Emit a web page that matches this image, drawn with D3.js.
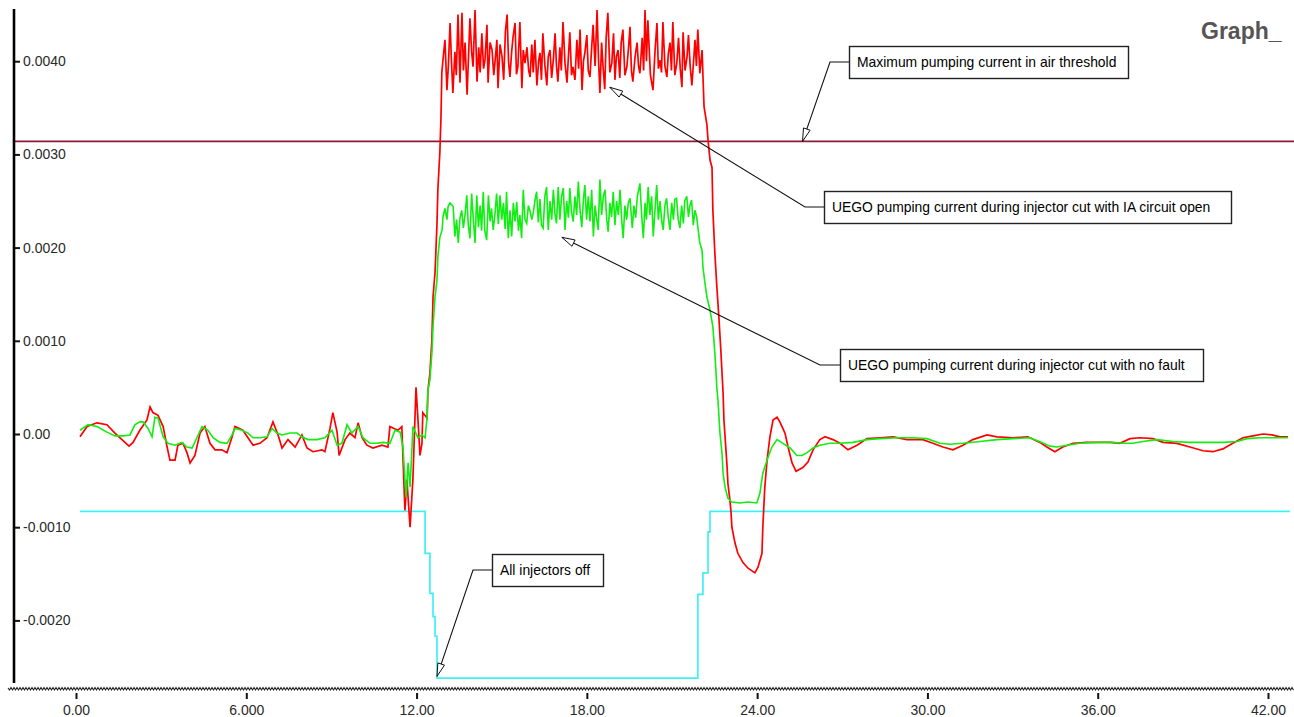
<!DOCTYPE html>
<html lang="en">
<head>
<meta charset="UTF-8">
<script src="https://d3js.org/d3.v7.min.js"></script>
<style>
  body { margin: 0; background: #fff; }
  svg { display: block; }
  .axis text { font-family: "Liberation Sans", Arial, sans-serif; font-size: 14px; fill: #2a2a2a; }
  .axis line { stroke: #111; stroke-width: 2; }
  .note text { font-family: "Liberation Sans", Arial, sans-serif; font-size: 13.9px; fill: #000; }
  .title { font-family: "Liberation Sans", Arial, sans-serif; font-size: 23px; font-weight: bold; fill: #555; }
</style>
</head>
<body>
<svg id="chart" width="1294" height="717"></svg>
<script>
// time in seconds, pumping current in mA (axis labels are in A)
var redData = [
  [0.14,-0.03],[0.39,0.08],[0.74,0.12],[1.09,0.10],[1.37,0.01],[1.62,-0.06],[1.87,-0.13],[2.01,-0.09],
  [2.25,0.04],[2.50,0.15],[2.61,0.29],[2.71,0.23],[2.89,0.20],[3.07,0.08],[3.21,-0.14],[3.31,-0.28],
  [3.49,-0.28],[3.59,-0.12],[3.77,-0.10],[3.91,-0.20],[4.02,-0.31],[4.19,-0.23],[4.37,0.01],[4.54,0.08],
  [4.72,-0.10],[4.90,-0.17],[5.14,-0.17],[5.32,-0.20],[5.50,-0.03],[5.60,0.08],[5.88,0.04],[6.06,-0.04],
  [6.24,-0.12],[6.48,-0.10],[6.73,-0.04],[6.94,0.13],[7.12,-0.01],[7.26,-0.15],[7.47,-0.06],[7.72,-0.14],
  [7.96,-0.01],[8.14,-0.15],[8.35,-0.19],[8.67,-0.17],[8.77,-0.19],[8.95,0.06],[9.05,0.23],[9.20,0.02],
  [9.27,-0.23],[9.48,-0.06],[9.65,0.01],[9.83,-0.04],[9.94,0.12],[10.08,-0.04],[10.25,-0.12],[10.46,-0.15],
  [10.78,-0.12],[10.99,-0.14],[11.06,0.08],[11.34,0.04],[11.48,0.08],[11.59,-0.82],[11.66,-0.49],[11.77,-1.00],
  [11.87,-0.49],[11.98,0.50],[12.05,0.15],[12.12,-0.23],[12.19,-0.10],[12.22,0.23],[12.37,0.17],[12.40,0.47],
  [12.47,0.65],[12.54,1.01],[12.58,1.47],[12.65,1.73],[12.72,2.26],[12.75,2.62],[12.82,3.02],[12.86,3.40],
  [12.89,3.88],[12.93,4.01],[13.00,4.23],[13.07,3.69],[13.12,3.95],[13.18,4.41],[13.23,4.00],[13.28,3.66],
  [13.35,4.10],[13.40,3.85],[13.46,4.50],[13.53,3.77],[13.60,4.52],[13.65,3.90],[13.71,4.20],[13.78,3.64],
  [13.83,4.05],[13.88,4.46],[13.94,4.10],[13.99,3.94],[14.06,4.55],[14.13,3.78],[14.19,4.15],[14.24,3.88],
  [14.30,4.30],[14.36,3.92],[14.41,4.01],[14.48,4.39],[14.52,3.77],[14.59,4.20],[14.66,4.12],[14.72,3.85],
  [14.78,4.05],[14.83,4.23],[14.87,3.71],[14.94,4.18],[15.01,4.05],[15.07,3.80],[15.13,4.32],[15.19,4.50],
  [15.24,4.00],[15.29,3.83],[15.35,4.10],[15.40,4.26],[15.47,4.41],[15.52,3.86],[15.57,3.94],[15.64,4.42],
  [15.71,3.71],[15.76,4.12],[15.82,3.98],[15.89,4.15],[15.95,3.90],[16.00,3.83],[16.06,4.18],[16.11,3.88],
  [16.17,4.23],[16.24,3.74],[16.30,4.00],[16.35,4.09],[16.40,3.80],[16.45,4.30],[16.52,3.96],[16.59,3.74],
  [16.64,4.05],[16.70,4.12],[16.76,3.82],[16.82,4.02],[16.88,4.30],[16.93,3.95],[16.98,3.78],[17.05,4.15],
  [17.10,3.90],[17.16,4.42],[17.23,3.98],[17.30,3.77],[17.35,4.05],[17.40,4.31],[17.46,3.85],[17.51,3.94],
  [17.58,3.80],[17.65,4.23],[17.71,3.92],[17.76,4.34],[17.83,3.69],[17.88,4.00],[17.93,4.09],[18.00,4.28],
  [18.05,3.90],[18.11,3.83],[18.16,4.10],[18.22,4.39],[18.29,3.95],[18.36,4.55],[18.41,4.02],[18.46,3.66],
  [18.52,4.20],[18.57,3.94],[18.63,3.70],[18.68,4.25],[18.74,4.52],[18.81,3.88],[18.88,3.98],[18.94,4.30],
  [18.99,3.80],[19.04,4.05],[19.10,4.12],[19.16,3.82],[19.21,4.20],[19.27,4.34],[19.34,3.85],[19.41,3.94],
  [19.47,4.15],[19.52,4.37],[19.57,3.90],[19.62,3.78],[19.70,4.05],[19.77,4.20],[19.82,3.95],[19.87,3.87],
  [19.95,4.25],[20.00,3.90],[20.05,4.55],[20.10,4.00],[20.15,4.44],[20.24,3.85],[20.33,3.69],[20.40,4.10],
  [20.47,4.41],[20.52,3.92],[20.58,4.01],[20.63,3.88],[20.68,4.42],[20.75,3.95],[20.82,3.83],[20.87,4.08],
  [20.93,4.20],[20.98,3.90],[21.03,4.42],[21.10,3.85],[21.17,3.98],[21.23,4.25],[21.29,3.92],[21.35,3.72],
  [21.39,4.31],[21.46,3.90],[21.53,4.05],[21.58,4.28],[21.64,3.95],[21.70,3.74],[21.76,4.00],[21.81,4.23],
  [21.86,3.95],[21.91,4.34],[21.98,3.87],[22.06,4.12],[22.09,3.85],[22.13,3.51],[22.23,3.32],[22.27,3.15],
  [22.34,2.94],[22.41,2.86],[22.44,2.40],[22.51,1.94],[22.58,1.58],[22.65,1.26],[22.72,0.90],[22.80,0.44],
  [22.83,0.15],[22.94,-0.35],[22.97,-0.53],[23.04,-0.71],[23.08,-0.84],[23.11,-1.00],[23.22,-1.17],[23.32,-1.28],
  [23.50,-1.38],[23.68,-1.44],[23.92,-1.49],[24.03,-1.43],[24.17,-1.28],[24.20,-1.00],[24.27,-0.57],[24.35,-0.28],
  [24.45,-0.03],[24.56,0.15],[24.70,0.18],[24.80,0.13],[24.98,0.01],[25.09,-0.14],[25.23,-0.31],[25.37,-0.40],
  [25.61,-0.36],[25.79,-0.30],[25.97,-0.17],[26.21,-0.06],[26.39,-0.03],[26.67,-0.06],[26.92,-0.10],[27.20,-0.17],
  [27.52,-0.12],[27.87,-0.05],[28.33,-0.04],[28.79,-0.03],[29.28,-0.06],[29.84,-0.06],[30.19,-0.10],[30.55,-0.14],
  [30.90,-0.17],[31.25,-0.12],[31.60,-0.06],[32.10,-0.01],[32.45,-0.03],[33.01,-0.04],[33.54,-0.03],[33.96,-0.09],
  [34.21,-0.14],[34.49,-0.19],[34.77,-0.14],[35.13,-0.10],[35.62,-0.09],[36.08,-0.09],[36.43,-0.09],[36.78,-0.10],
  [37.14,-0.05],[37.49,-0.04],[37.95,-0.05],[38.30,-0.09],[38.79,-0.10],[39.25,-0.14],[39.71,-0.18],[40.06,-0.19],
  [40.41,-0.16],[40.76,-0.10],[41.12,-0.04],[41.47,-0.02],[41.82,0.00],[42.14,-0.01],[42.42,-0.03],[42.70,-0.03]
];

var greenData = [
  [0.14,0.04],[0.42,0.10],[0.74,0.08],[1.09,0.02],[1.37,-0.02],[1.66,-0.02],[1.90,-0.01],[2.08,0.10],
  [2.25,0.13],[2.36,0.13],[2.54,0.06],[2.68,-0.03],[2.78,0.18],[2.89,0.17],[3.07,-0.03],[3.24,-0.10],
  [3.49,-0.12],[3.73,-0.09],[3.91,-0.14],[4.09,-0.15],[4.26,-0.04],[4.44,0.08],[4.65,0.04],[4.83,-0.04],
  [5.07,-0.09],[5.32,-0.10],[5.50,-0.01],[5.60,0.06],[5.85,0.04],[6.06,0.01],[6.24,-0.04],[6.48,-0.04],
  [6.73,-0.03],[6.91,0.06],[7.08,0.01],[7.26,-0.01],[7.54,0.01],[7.79,0.01],[7.96,-0.03],[8.17,-0.06],
  [8.49,-0.06],[8.77,-0.04],[9.02,0.04],[9.20,-0.12],[9.37,-0.10],[9.55,0.10],[9.72,0.01],[9.94,0.08],
  [10.11,-0.04],[10.36,-0.10],[10.61,-0.10],[10.82,-0.09],[11.06,-0.10],[11.24,0.04],[11.42,0.02],[11.52,-0.14],
  [11.63,-0.68],[11.70,-0.31],[11.77,-0.57],[11.84,-0.14],[11.87,0.08],[12.05,-0.04],[12.19,-0.01],[12.30,-0.04],
  [12.37,0.18],[12.40,0.47],[12.47,0.58],[12.54,0.87],[12.58,1.15],[12.65,1.47],[12.72,1.65],[12.75,1.90],
  [12.82,2.11],[12.90,2.19],[12.93,2.33],[13.00,2.42],[13.07,2.30],[13.11,2.44],[13.18,2.48],[13.29,2.44],
  [13.35,2.12],[13.41,2.30],[13.47,2.05],[13.53,2.32],[13.59,2.40],[13.65,2.21],[13.71,2.36],[13.77,2.56],
  [13.82,2.25],[13.88,2.10],[13.94,2.58],[14.00,2.30],[14.06,2.05],[14.12,2.56],[14.18,2.22],[14.24,2.45],
  [14.29,2.18],[14.35,2.60],[14.40,2.19],[14.47,2.08],[14.53,2.56],[14.59,2.28],[14.64,2.42],[14.70,2.19],
  [14.76,2.35],[14.82,2.58],[14.88,2.25],[14.94,2.56],[15.00,2.30],[15.06,2.48],[15.12,2.20],[15.17,2.60],
  [15.23,2.10],[15.29,2.40],[15.35,2.12],[15.41,2.48],[15.47,2.28],[15.53,2.49],[15.59,2.18],[15.64,2.35],
  [15.70,2.10],[15.76,2.62],[15.82,2.30],[15.88,2.26],[15.94,2.45],[16.00,2.39],[16.06,2.30],[16.11,2.37],
  [16.17,2.50],[16.23,2.60],[16.29,2.27],[16.35,2.52],[16.40,2.24],[16.46,2.21],[16.52,2.55],[16.58,2.65],
  [16.64,2.19],[16.70,2.50],[16.76,2.30],[16.82,2.62],[16.88,2.35],[16.93,2.26],[16.99,2.65],[17.05,2.30],
  [17.11,2.55],[17.17,2.64],[17.23,2.19],[17.29,2.50],[17.35,2.32],[17.40,2.64],[17.46,2.38],[17.52,2.28],
  [17.58,2.55],[17.64,2.35],[17.70,2.71],[17.76,2.40],[17.82,2.22],[17.88,2.52],[17.93,2.67],[17.99,2.30],
  [18.05,2.55],[18.11,2.28],[18.17,2.62],[18.23,2.12],[18.29,2.45],[18.35,2.30],[18.40,2.19],[18.46,2.73],
  [18.52,2.35],[18.58,2.55],[18.64,2.62],[18.70,2.30],[18.75,2.17],[18.81,2.48],[18.87,2.33],[18.93,2.60],
  [18.99,2.24],[19.05,2.50],[19.11,2.35],[19.17,2.62],[19.23,2.28],[19.28,2.10],[19.34,2.45],[19.40,2.30],
  [19.46,2.48],[19.52,2.53],[19.60,2.21],[19.66,2.45],[19.72,2.32],[19.78,2.55],[19.87,2.69],[19.93,2.35],
  [19.99,2.10],[20.05,2.48],[20.10,2.30],[20.16,2.65],[20.22,2.35],[20.28,2.55],[20.34,2.12],[20.40,2.40],
  [20.46,2.67],[20.52,2.30],[20.58,2.50],[20.64,2.28],[20.69,2.19],[20.75,2.45],[20.81,2.53],[20.87,2.32],
  [20.93,2.19],[20.99,2.48],[21.05,2.30],[21.10,2.52],[21.16,2.53],[21.22,2.30],[21.28,2.21],[21.34,2.45],
  [21.40,2.26],[21.45,2.50],[21.52,2.55],[21.58,2.33],[21.63,2.45],[21.69,2.51],[21.75,2.24],[21.81,2.40],
  [21.87,2.33],[21.91,2.22],[21.98,2.05],[22.06,1.97],[22.09,1.79],[22.16,1.62],[22.23,1.47],[22.34,1.33],
  [22.44,1.15],[22.51,0.87],[22.58,0.50],[22.62,0.36],[22.69,0.01],[22.76,-0.20],[22.80,-0.42],[22.87,-0.57],
  [22.97,-0.69],[23.11,-0.73],[23.39,-0.74],[23.68,-0.73],[23.99,-0.74],[24.10,-0.63],[24.20,-0.42],[24.35,-0.28],
  [24.52,-0.14],[24.70,-0.06],[24.91,-0.10],[25.16,-0.15],[25.40,-0.23],[25.58,-0.23],[25.76,-0.20],[25.97,-0.15],
  [26.21,-0.12],[26.56,-0.10],[26.92,-0.10],[27.38,-0.09],[27.87,-0.06],[28.33,-0.05],[28.93,-0.04],[29.49,-0.04],
  [29.98,-0.05],[30.44,-0.10],[30.79,-0.11],[31.25,-0.10],[31.85,-0.08],[32.45,-0.06],[33.01,-0.05],[33.61,-0.04],
  [34.03,-0.09],[34.32,-0.13],[34.56,-0.14],[34.92,-0.12],[35.37,-0.10],[35.97,-0.09],[36.54,-0.09],[36.89,-0.10],
  [37.24,-0.10],[37.59,-0.08],[38.09,-0.06],[38.65,-0.08],[39.25,-0.09],[39.85,-0.09],[40.41,-0.09],[40.91,-0.08],
  [41.26,-0.05],[41.72,-0.04],[42.17,-0.04],[42.70,-0.04]
];

// injector command trace, drawn as steps
var cyanData = [
  [0.14,-0.83],[12.30,-1.28],[12.47,-1.71],[12.58,-1.96],[12.65,-2.17],[12.72,-2.62],
  [21.91,-1.72],[22.09,-1.49],[22.27,-1.05],[22.34,-0.83],[42.77,-0.83]
];

var thresholdValue = 3.14;

var xTickValues = [0, 6, 12, 18, 24, 30, 36, 42];
var xTickLabels = ["0.00", "6.000", "12.00", "18.00", "24.00", "30.00", "36.00", "42.00"];
var yTickValues = [4, 3, 2, 1, 0, -1, -2];
var yTickLabels = ["0.0040", "0.0030", "0.0020", "0.0010", "0.00", "-0.0010", "-0.0020"];

var noteTexts = [
  "Maximum pumping current in air threshold",
  "UEGO pumping current during injector cut with IA circuit open",
  "UEGO pumping current during injector cut with no fault",
  "All injectors off"
];
// where each arrow points, in data units [s, mA]
var noteTargets = [[25.6, 3.14], [18.81, 3.72], [17.12, 2.11], [12.72, -2.60]];
// box placement on the page
var noteBoxes = [
  {x: 849, y: 46, w: 279, elbow: 830},
  {x: 824, y: 191, w: 407, elbow: 805},
  {x: 840, y: 349, w: 363, elbow: 820},
  {x: 492, y: 554, w: 111, elbow: 473}
];

var svg = d3.select("#chart");
var W = 1294, H = 717;

var x = d3.scaleLinear().domain([0, 42]).range([76, 1268]);
var y = d3.scaleLinear().domain([0, 4]).range([434, 61.2]);

// threshold
svg.append("line")
    .attr("x1", 14).attr("x2", W)
    .attr("y1", y(thresholdValue)).attr("y2", y(thresholdValue))
    .attr("stroke", "#8b1a3a").attr("stroke-width", 1.6);

var line = d3.line().x(function(d){ return x(d[0]); }).y(function(d){ return y(d[1]); });

svg.append("path").datum(cyanData)
    .attr("d", line.curve(d3.curveStepAfter))
    .attr("fill", "none").attr("stroke", "#3ff0f5").attr("stroke-width", 1.7);

line.curve(d3.curveLinear);
svg.append("path").datum(redData)
    .attr("d", line)
    .attr("fill", "none").attr("stroke", "#ff0000").attr("stroke-width", 1.7);
svg.append("path").datum(greenData)
    .attr("d", line)
    .attr("fill", "none").attr("stroke", "#11ee11").attr("stroke-width", 1.6);

// y axis (labels sit right of the line)
var yAxis = svg.append("g").attr("class", "axis")
    .attr("transform", "translate(14,0)")
    .call(d3.axisRight(y).tickValues(yTickValues).tickSize(6).tickPadding(3)
        .tickFormat(function(d, i){ return yTickLabels[i]; }));
yAxis.select(".domain").remove();
svg.append("line")
    .attr("x1", 14).attr("x2", 14).attr("y1", 9).attr("y2", 683)
    .attr("stroke", "#000").attr("stroke-width", 2.6);

// x axis with the wavy base line
var xAxis = svg.append("g").attr("class", "axis")
    .attr("transform", "translate(0,693)")
    .call(d3.axisBottom(x).tickValues(xTickValues).tickSize(6).tickPadding(6)
        .tickFormat(function(d, i){ return xTickLabels[i]; }));
xAxis.select(".domain").remove();

var wave = "M8,688";
for (var px = 9.5, k = 0; px <= W; px += 1.5, k++) {
    wave += "L" + px + "," + (k % 2 ? 687.5 : 690);
}
svg.append("path").attr("d", wave)
    .attr("fill", "none").attr("stroke", "#222").attr("stroke-width", 1.1);

svg.append("text").attr("class", "title")
    .attr("x", 1201).attr("y", 39).text("Graph_");

// annotations
noteTexts.forEach(function(txt, i) {
    var b = noteBoxes[i];
    var tx = x(noteTargets[i][0]), ty = y(noteTargets[i][1]);
    var my = b.y + 16;
    var g = svg.append("g").attr("class", "note");
    g.append("path")
        .attr("d", "M" + b.x + "," + my + "L" + b.elbow + "," + my + "L" + tx + "," + ty)
        .attr("fill", "none").attr("stroke", "#111").attr("stroke-width", 1.1);
    // open arrow head
    var ang = Math.atan2(ty - my, tx - b.elbow);
    var len = 13, half = 3.5;
    var bx = tx - len * Math.cos(ang), by = ty - len * Math.sin(ang);
    var px1 = bx + half * Math.sin(ang), py1 = by - half * Math.cos(ang);
    var px2 = bx - half * Math.sin(ang), py2 = by + half * Math.cos(ang);
    g.append("path")
        .attr("d", "M" + tx + "," + ty + "L" + px1 + "," + py1 + "L" + px2 + "," + py2 + "Z")
        .attr("fill", "#fff").attr("stroke", "#111").attr("stroke-width", 1);
    g.append("rect")
        .attr("x", b.x + 0.5).attr("y", b.y + 0.5).attr("width", b.w).attr("height", 32)
        .attr("fill", "#fff").attr("stroke", "#222").attr("stroke-width", 1.4);
    g.append("text")
        .attr("x", b.x + 8).attr("y", b.y + 21).text(txt);
});
</script>
</body>
</html>
